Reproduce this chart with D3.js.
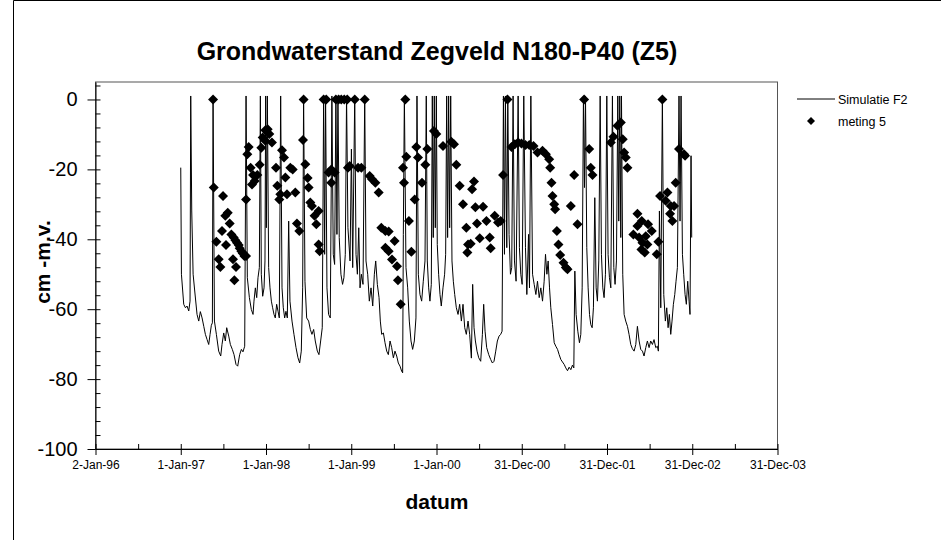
<!DOCTYPE html>
<html>
<head>
<meta charset="utf-8">
<script src="https://cdn.jsdelivr.net/npm/d3@7"></script>
<style>
  body { margin: 0; background: #fff; }
  svg { display: block; font-family: Arial, "Liberation Sans", sans-serif; }
</style>
</head>
<body>
<div id="chart"></div>
<script>
// Simulatie F2 (decimal year, cm -m.v.)
var simYears = [
  1997.000,1997.008,1997.035,1997.055,1997.074,1997.094,1997.109,1997.117,1997.129,1997.145,
  1997.164,1997.191,1997.211,1997.230,1997.250,1997.270,1997.289,1997.309,1997.328,1997.344,
  1997.359,1997.371,1997.379,1997.395,1997.418,1997.445,1997.469,1997.484,1997.504,1997.523,
  1997.539,1997.563,1997.582,1997.605,1997.625,1997.648,1997.668,1997.691,1997.711,1997.730,
  1997.750,1997.766,1997.781,1997.805,1997.828,1997.848,1997.859,1997.875,1997.891,1997.906,
  1997.922,1997.934,1997.945,1997.961,1997.977,1997.988,1997.996,1998.004,1998.016,1998.031,
  1998.047,1998.063,1998.078,1998.094,1998.109,1998.125,1998.141,1998.156,1998.172,1998.188,
  1998.203,1998.219,1998.234,1998.250,1998.266,1998.281,1998.305,1998.328,1998.352,1998.375,
  1998.395,1998.414,1998.430,1998.441,1998.457,1998.477,1998.500,1998.520,1998.539,1998.559,
  1998.578,1998.602,1998.621,1998.641,1998.660,1998.676,1998.688,1998.699,1998.715,1998.734,
  1998.754,1998.773,1998.789,1998.805,1998.820,1998.832,1998.844,1998.859,1998.879,1998.898,
  1998.914,1998.930,1998.945,1998.961,1998.986,1999.002,1999.017,1999.041,1999.056,1999.072,
  1999.088,1999.103,1999.119,1999.138,1999.158,1999.173,1999.193,1999.212,1999.232,1999.252,
  1999.271,1999.287,1999.306,1999.326,1999.341,1999.357,1999.377,1999.396,1999.416,1999.435,
  1999.455,1999.474,1999.494,1999.513,1999.533,1999.552,1999.572,1999.591,1999.603,1999.611,
  1999.623,1999.642,1999.662,1999.681,1999.701,1999.720,1999.740,1999.759,1999.771,1999.787,
  1999.806,1999.826,1999.845,1999.865,1999.880,1999.892,1999.908,1999.923,1999.939,1999.951,
  1999.962,1999.974,1999.986,1999.998,2000.009,2000.025,2000.041,2000.056,2000.076,2000.095,
  2000.107,2000.119,2000.130,2000.142,2000.154,2000.166,2000.181,2000.197,2000.213,2000.232,
  2000.252,2000.271,2000.291,2000.310,2000.330,2000.349,2000.369,2000.388,2000.408,2000.423,
  2000.439,2000.455,2000.474,2000.494,2000.517,2000.537,2000.552,2000.568,2000.587,2000.611,
  2000.634,2000.654,2000.673,2000.693,2000.712,2000.732,2000.751,2000.767,2000.783,2000.795,
  2000.806,2000.822,2000.834,2000.849,2000.865,2000.880,2000.896,2000.912,2000.931,2000.955,
  2000.970,2000.986,2001.002,2001.021,2001.041,2001.057,2001.077,2001.088,2001.104,2001.124,
  2001.143,2001.163,2001.182,2001.202,2001.221,2001.241,2001.260,2001.276,2001.292,2001.307,
  2001.323,2001.338,2001.358,2001.378,2001.397,2001.417,2001.436,2001.456,2001.475,2001.495,
  2001.514,2001.534,2001.553,2001.573,2001.592,2001.608,2001.620,2001.635,2001.655,2001.674,
  2001.690,2001.706,2001.721,2001.733,2001.745,2001.760,2001.776,2001.792,2001.807,2001.823,
  2001.838,2001.854,2001.870,2001.885,2001.901,2001.917,2001.932,2001.948,2001.963,2001.979,
  2001.995,2002.010,2002.026,2002.042,2002.061,2002.077,2002.092,2002.108,2002.124,2002.135,
  2002.147,2002.159,2002.167,2002.182,2002.198,2002.217,2002.237,2002.256,2002.276,2002.295,
  2002.315,2002.335,2002.354,2002.374,2002.393,2002.413,2002.432,2002.452,2002.471,2002.491,
  2002.510,2002.530,2002.549,2002.569,2002.588,2002.600,2002.612,2002.628,2002.647,2002.663,
  2002.682,2002.698,2002.714,2002.729,2002.745,2002.760,2002.776,2002.792,2002.807,2002.823,
  2002.842,2002.854,2002.866,2002.882,2002.897,2002.913,2002.928,2002.944,2002.960,2002.971,
  2002.983,2002.991
];
var simValues = [
  -19.5,-50,-58.6,-59.6,-59.1,-60.5,-57.7,1,-31.9,-50,
  -54.8,-61.5,-63.4,-60.7,-62.5,-64.9,-67.2,-68.7,-70.1,-67.2,
  -64.6,-63.9,1,-63.4,-67.2,-72,-73.4,-70.1,-66.8,-69.1,
  -65.3,-67.7,-70.1,-71.5,-73,-75.8,-76.3,-73,-71.5,-72.2,
  -70.6,1,-51,-56.7,-60.1,-61.5,-57.7,-53.9,-56.7,-51,
  -48.1,1,-50,-56.3,-53.9,-46.2,1,-36.7,1,-48.1,
  -53.9,-57.7,-59.6,-61.5,-62.5,-58.6,-60.6,-62.5,1,-53.9,
  -59.6,-62.5,-60.6,-62.5,-34.8,-57.7,-63.4,-67.2,-71,-73.9,
  -75.4,-72,-53.9,1,-52,-62.5,-63.4,-65.8,-67.2,-65.8,
  -69.1,-72,-73,-69.1,-65.3,1,-44.3,1,-53.9,-61.5,
  -62.5,1,-44.3,-47.2,1,-38.6,1,-39.5,-50,-52.9,
  -51,-44.3,1,-36.7,-46.2,-14.2,-48.1,1,-44.3,-50,
  -36.7,-53.9,-50,-52.9,1,-46.2,-50,-57.7,-53.9,-59.1,
  -50,-46.2,-52.9,-56.7,-63.4,-67.2,-66.8,-69.6,-72,-73,
  -69.1,-71,-73.9,-72,-73.4,-75.4,-76.3,-77.7,-78.2,-38.6,
  1,-48.1,-53.9,-63.4,-69.1,-71.5,-69.1,-62.5,1,-50,
  -55.8,-57.7,-52,-46.2,1,-46.2,-53.9,-57.7,-52.9,1,
  -39.5,1,-36.7,1,-41.5,-50,-55.8,-59.1,-53.9,-50,
  -44.3,1,-39.5,1,-36.7,1,-46.2,-52,-55.8,-59.6,
  -61.5,-58.6,-63.4,-58.6,-65.3,-67.2,-63.4,-67.2,-74,-52.9,
  -65.3,-69.1,-72,-73.9,-74.9,-67.2,-58.6,-66.3,-71,-73,
  -74.4,-75.4,-74.9,-72,-69.1,-67.7,-67.2,-66.3,1,-44.3,
  1,-42.4,1,-38.6,-50,-48.1,1,-46.2,-52,1,
  -42.4,-50,-52.9,1,-42.4,-55.8,-38.6,-53.9,1,-50,
  -52.9,-55.8,-52,-56.7,-53.9,-57.7,-52,-44.3,-50,-46.2,
  -53.9,-59.6,-64.4,-69.6,-70.6,-71.5,-73,-74.4,-75.1,-75.8,
  -76.8,-77.6,-76.6,-77.3,-76,-76.8,-49.1,-61.5,-66.3,-69.6,
  -67.2,-53.9,1,-25.2,1,-42.4,-53.9,-61.5,-64.4,-65.3,
  -59.6,-28.1,-53.9,-57.7,-46.2,1,-44.3,-53.9,-56.7,-50,
  1,-44.3,-51,-53.9,1,-48.1,-52.9,-46.2,1,-34.8,
  1,-39.5,1,-50,-61.5,-63.4,-64.9,-67.2,-70.1,-71.3,
  -72,-70.1,-64.9,-69.1,-71.5,-72,-73.4,-71,-69.1,-71,
  -69.1,-70.1,-68.7,-71,-70.6,-72,-31.9,-59.6,1,-55.8,
  -63.4,-59.6,-65.3,-61.5,-67.2,-63.4,-58.6,-55.8,-52,-48.1,
  1,-34.8,1,-44.3,-50,-55.8,-58.6,-52,-57.7,-61.5,
  -16.1,-39.5
];

// meting 5 (decimal year, cm -m.v.)
var measYears = [
  1997.379,1997.387,1997.496,1997.523,1997.551,1997.574,1997.484,1997.418,1997.531,1997.594,
  1997.621,1997.641,1997.660,1997.680,1997.691,1997.711,1997.727,1997.746,1997.766,1997.445,
  1997.465,1997.613,1997.648,1997.629,1997.766,1997.781,1997.797,1997.820,1997.848,1997.867,
  1997.836,1997.898,1997.926,1997.945,1997.961,1997.992,1998.020,1998.039,1998.070,1997.992,
  1998.188,1998.211,1998.117,1998.227,1998.285,1998.313,1998.133,1998.168,1998.246,1998.344,
  1998.156,1998.441,1998.434,1998.461,1998.488,1998.500,1998.520,1998.539,1998.570,1998.617,
  1998.590,1998.363,1998.391,1998.617,1998.629,1998.676,1998.707,1998.820,1998.852,1998.883,
  1998.918,1998.953,1998.766,1998.734,1998.766,1998.805,1998.961,
  1999.041,1999.158,1998.982,1999.080,1999.119,1999.216,1999.244,1999.283,1999.322,1999.353,
  1999.400,1999.439,1999.509,1999.400,1999.439,1999.478,1999.537,1999.548,1999.580,1999.634,
  1999.607,1999.646,1999.619,1999.677,1999.705,1999.744,1999.763,1999.783,1999.830,1999.869,
  1999.892,1999.970,1999.998,2000.076,2000.173,2000.205,2000.232,2000.271,2000.310,2000.349,
  2000.369,2000.400,2000.439,2000.416,2000.455,2000.545,2000.474,2000.506,2000.584,2000.623,
  2000.634,2000.681,2000.720,2000.751,2000.361,2000.779,2000.830,2000.877,2000.916,2000.955,
  2000.994,2001.041,
  2001.085,2001.135,2001.182,2001.241,2001.280,2001.319,2001.331,2001.346,2001.358,2001.378,
  2001.389,2001.409,2001.428,2001.448,2001.487,2001.514,2001.534,2001.573,2001.612,2001.651,
  2001.729,2001.788,2001.807,2001.827,2002.042,2002.073,2002.120,2002.159,2002.182,2002.198,
  2002.217,2002.237,2002.354,2002.307,2002.354,2002.405,2002.479,2002.522,2002.374,2002.413,
  2002.452,2002.471,2002.401,2002.440,2002.581,2002.600,2002.647,2002.620,2002.706,2002.686,
  2002.803,2002.745,2002.784,2002.737,2002.764,2002.842,2002.901,2002.913
];
var measValues = [
  0,-25.2,-27.6,-33.3,-32.4,-35.5,-37.6,-40.7,-41.6,-38.6,
  -39.5,-40.3,-41,-41.6,-42.6,-43.4,-44,-44.8,-44.8,-45.7,
  -47.9,-45.7,-47.9,-51.7,-28.6,-15.7,-13.6,-19.5,-21.6,-23.3,
  -24.3,-21.6,-18.7,-13.8,-10.9,-8.8,-8.5,-9.9,-12.3,-11.8,
  -14.5,-16.6,-19.5,-22.3,-19.5,-20,-24.7,-27.1,-27.1,-26.6,
  -28.6,0,-11.6,-18.5,-22.5,-25.2,-29.5,-30.5,-33.3,-31.9,
  -35.7,-35.5,-37.6,-41.5,-43.4,0,0,0,0,0,
  0,0,-20,-20.9,-23.8,-20.9,-19.5,
  0,0,-19,-19.5,-19.5,-21.9,-22.8,-23.8,-26.6,-36.7,
  -37.6,-37.8,-40.5,-42.4,-43.4,-45.8,-47.7,-51.7,-58.6,0,
  -19.5,-16.4,-23.8,-34.8,-43.6,-28.6,-13.6,-16.6,-23.8,-18.7,
  -14.2,-9,-9.9,-13.3,-12.1,-12.8,-18.7,-24.7,-30,-36.7,
  -41.5,-41.3,-23.5,-25.7,-30.8,-30.7,-35.5,-39.7,-34.8,-39.5,
  -42.6,-33.3,-35.2,-34.8,-43.8,-21.6,0,-13.6,-12.8,-12.3,
  -12.6,-13,
  -13,-13.3,-15.2,-14.7,-15.7,-17.1,-19.5,-23.8,-27.6,-30,
  -31.4,-37.6,-41.5,-44.5,-46.7,-48.1,-48.6,-30.5,-21.6,-35.7,
  0,-14.2,-19.5,-21.6,-12.3,-10.7,-7.5,-6.6,-11.4,-15.2,
  -16.6,-19.5,-32.7,-38.6,-36.2,-34.8,-35.7,-37.6,-39.5,-41,
  -39.1,-41.5,-42.9,-43.8,-44.3,-40.7,0,-27.6,-26.6,-29,
  -23.8,-30.5,-30.5,-32.7,-34.8,-14.2,-15.7,-16.1
];

// Axis ticks
var yTicks = [-100, -80, -60, -40, -20, 0];
var xTickDates = ["1996-01-02", "1997-01-01", "1998-01-01", "1999-01-01", "2000-01-01",
                  "2000-12-31", "2001-12-31", "2002-12-31", "2003-12-31"];
var xTickLabels = ["2-Jan-96", "1-Jan-97", "1-Jan-98", "1-Jan-99", "1-Jan-00",
                   "31-Dec-00", "31-Dec-01", "31-Dec-02", "31-Dec-03"];

var width = 941, height = 540;
var plot = { left: 95.5, right: 777.5, top: 82, bottom: 449 };

function yearToDate(t) {
  var yr = Math.floor(t);
  var a = Date.UTC(yr, 0, 1), b = Date.UTC(yr + 1, 0, 1);
  return new Date(a + (t - yr) * (b - a));
}

var majorDates = xTickDates.map(function(s) { return new Date(s + "T00:00:00Z"); });
var minorDates = [];
majorDates.forEach(function(d, i) {
  minorDates.push(d);
  if (i < majorDates.length - 1) minorDates.push(new Date((+d + +majorDates[i + 1]) / 2));
});

var xScale = d3.scaleUtc()
  .domain([majorDates[0], majorDates[majorDates.length - 1]])
  .range([plot.left, plot.right]);

var yScale = d3.scaleLinear()
  .domain([-100, 5])
  .range([plot.bottom, plot.top]);

var svg = d3.select("#chart").append("svg")
  .attr("width", width)
  .attr("height", height);

svg.append("rect").attr("width", width).attr("height", height).attr("fill", "#fff");

// outer chart frame (left and top edges visible)
svg.append("path")
  .attr("d", "M13.5," + height + "V0.5H" + width)
  .attr("fill", "none")
  .attr("stroke", "#000");

// plot area
svg.append("rect")
  .attr("x", plot.left).attr("y", plot.top)
  .attr("width", plot.right - plot.left)
  .attr("height", plot.bottom - plot.top)
  .attr("fill", "#fff")
  .attr("stroke", "#555");

// Title
svg.append("text")
  .attr("x", 437).attr("y", 60)
  .attr("text-anchor", "middle")
  .style("font-size", "25px").style("font-weight", "bold")
  .text("Grondwaterstand Zegveld N180-P40 (Z5)");

// Simulated line
var simData = simYears.map(function(t, i) { return { date: yearToDate(t), v: simValues[i] }; });
var line = d3.line()
  .x(function(d) { return xScale(d.date); })
  .y(function(d) { return yScale(d.v); });

svg.append("path")
  .datum(simData)
  .attr("fill", "none")
  .attr("stroke", "#000")
  .attr("stroke-width", 1)
  .attr("d", line);

// Measurements
var measData = measYears.map(function(t, i) { return { date: yearToDate(t), v: measValues[i] }; });
var diamond = d3.symbol().type(d3.symbolSquare).size(50);

svg.append("g").selectAll("path")
  .data(measData)
  .join("path")
  .attr("d", diamond)
  .attr("transform", function(d) {
    return "translate(" + xScale(d.date) + "," + yScale(d.v) + ") rotate(45)";
  })
  .attr("fill", "#000");

// Y axis: major ticks cross, minor ticks inside
var yAxis = svg.append("g")
  .attr("transform", "translate(" + plot.left + ",0)")
  .call(d3.axisLeft(yScale).tickValues(yTicks).tickSizeInner(8).tickSizeOuter(0).tickPadding(10)
    .tickFormat(function(d) { return String(d); }));
yAxis.selectAll("text").style("font-size", "20px").attr("fill", "#000");

svg.append("g")
  .attr("transform", "translate(" + plot.left + ",0)")
  .call(d3.axisRight(yScale).tickValues(d3.range(-100, 5, 4)).tickSize(5).tickFormat(""))
  .select(".domain").remove();

// X axis
var xAxis = svg.append("g")
  .attr("transform", "translate(0," + plot.bottom + ")")
  .call(d3.axisBottom(xScale).tickValues(majorDates).tickSizeInner(6).tickSizeOuter(0).tickPadding(5)
    .tickFormat(function(d, i) { return xTickLabels[i]; }));
xAxis.selectAll("text").style("font-size", "12px").attr("fill", "#000");

svg.append("g")
  .attr("transform", "translate(0," + plot.bottom + ")")
  .call(d3.axisTop(xScale).tickValues(minorDates).tickSize(5).tickFormat(""))
  .select(".domain").remove();

svg.selectAll(".domain, .tick line").attr("stroke", "#000");

// Axis titles
svg.append("text")
  .attr("x", 437).attr("y", 509)
  .attr("text-anchor", "middle")
  .style("font-size", "21px").style("font-weight", "bold")
  .text("datum");

svg.append("text")
  .attr("transform", "translate(50,262) rotate(-90)")
  .attr("text-anchor", "middle")
  .style("font-size", "21px").style("font-weight", "bold")
  .text("cm -m.v.");

// Legend
var legend = svg.append("g");
legend.append("line")
  .attr("x1", 797).attr("x2", 835).attr("y1", 99).attr("y2", 99)
  .attr("stroke", "#000");
legend.append("text")
  .attr("x", 838).attr("y", 103.5)
  .style("font-size", "12.5px")
  .text("Simulatie F2");
legend.append("path")
  .attr("d", diamond)
  .attr("transform", "translate(811,121) rotate(45) scale(0.8)")
  .attr("fill", "#000");
legend.append("text")
  .attr("x", 838).attr("y", 125.5)
  .style("font-size", "12.5px")
  .text("meting 5");
</script>
</body>
</html>
